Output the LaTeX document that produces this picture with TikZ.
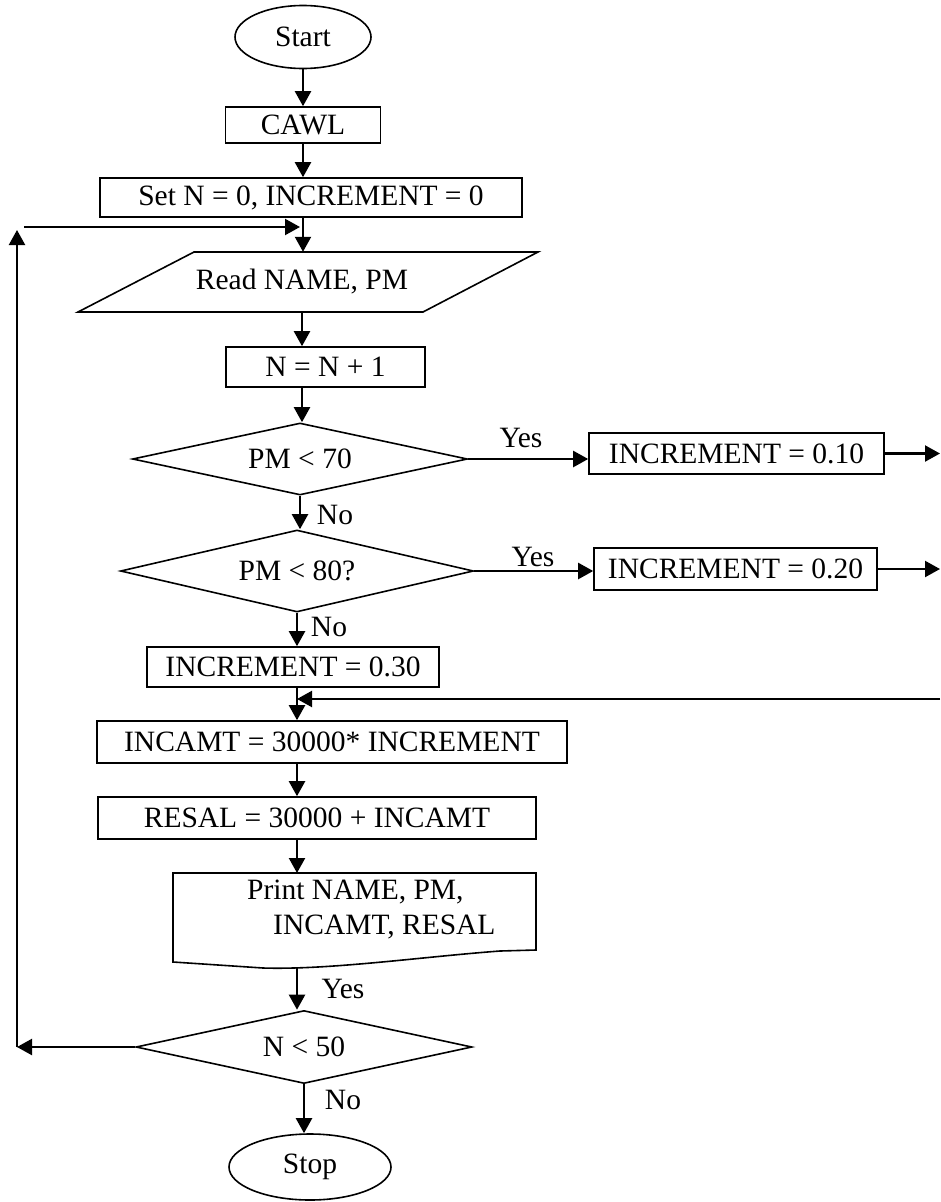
\documentclass[tikz,border=0pt]{standalone}
\usepackage{fontspec}
\setmainfont{Liberation Serif}
\usetikzlibrary{shapes.geometric,arrows.meta}
\begin{document}
\begin{tikzpicture}[x=1pt,y=-1pt,
  every node/.style={font=\fontsize{29.5}{35}\selectfont, inner sep=0pt},
  box/.style={draw, line width=1.6pt, rectangle},
  term/.style={draw, line width=1.6pt, ellipse},
  dec/.style={draw, line width=1.6pt, diamond, aspect=4.6},
  outline/.style={draw, line width=1.6pt},
  arr/.style={line width=2.2pt, -{Triangle[length=15pt,width=16pt]}}]
\useasboundingbox (0,0) rectangle (940,1202);

% nodes
\node[term, minimum width=136pt, minimum height=63pt] (start) at (303,37) {Start};
\node[box, minimum width=155pt, minimum height=36pt] (cawl) at (303,125) {CAWL};
\node[box, minimum width=422pt, minimum height=39pt] (setn) at (311,197.5) {Set N = 0, INCREMENT = 0};
\node[minimum width=200pt, minimum height=60pt] (read) at (302,282) {Read NAME, PM};
\draw[outline] (194,252) -- (538,252) -- (423,312) -- (78,312) -- cycle;
\node[box, minimum width=199pt, minimum height=40pt] (n1) at (325.5,367) {N = N + 1};
\node[dec, minimum width=335pt, minimum height=72pt] (d1) at (300,459) {PM < 70};
\node[dec, minimum width=353pt, minimum height=82pt] (d2) at (297,571) {PM < 80?};
\node[box, minimum width=295pt, minimum height=41pt] (inc1) at (736.5,453.5) {INCREMENT = 0.10};
\node[box, minimum width=283pt, minimum height=42pt] (inc2) at (735.5,569) {INCREMENT = 0.20};
\node[box, minimum width=292pt, minimum height=40pt] (inc3) at (293,667) {INCREMENT = 0.30};
\node[box, minimum width=470pt, minimum height=42pt] (incamt) at (332,742) {INCAMT = 30000* INCREMENT};
\node[box, minimum width=438pt, minimum height=42pt] (resal) at (317,818) {RESAL = 30000 + INCAMT};
\node[anchor=west, align=left] (print) at (247,909.5) {Print NAME, PM,\\\hspace*{26pt}INCAMT, RESAL};
\draw[outline] (173,962) -- (173,873) -- (536,873) -- (536,950) -- (500,951)
  .. controls (420,957) and (330,970) .. (263,968) -- cycle;
\node[dec, minimum width=336pt, minimum height=73pt] (n50) at (304,1047) {N < 50};
\node[term, minimum width=162pt, minimum height=66pt] (stop) at (310,1167) {Stop};

% labels
\node (y1) at (521,438) {Yes};
\node (y2) at (533,557) {Yes};
\node (no1) at (335,515) {No};
\node (no2) at (329,627) {No};
\node (y3) at (343,989) {Yes};
\node (no3) at (343,1100) {No};

% coordinates
\coordinate (pt) at (297,873);
\coordinate (pb) at (297,968);
\coordinate (lt) at (17,230);
\coordinate (lb) at (17,1047);
\coordinate (lh) at (24,227);
\coordinate (e1) at (940,453.5);
\coordinate (e2) at (940,569);
\coordinate (r3) at (940,699);

% connectors
\draw[arr] (start.south) -- (start.south |- cawl.north);
\draw[arr] (cawl.south) -- (cawl.south |- setn.north);
\draw[arr] (setn.south -| cawl) -- (read.north -| cawl);
\draw[arr] (read.south) -- (read.south |- n1.north);
\draw[arr] (n1.south -| read) -- (d1.north -| read);
\draw[arr] (d1.south) -- (d1.south |- d2.north);
\draw[arr] (d2.south) -- (d2.south |- inc3.north);
\draw[arr] (inc3.south -| d2) -- (incamt.north -| d2);
\draw[arr] (incamt.south -| d2) -- (resal.north -| d2);
\draw[arr] (resal.south -| d2) -- (pt);
\draw[arr] (pb) -- (pb |- n50.north);
\draw[arr] (n50.south) -- (n50.south |- stop.north);
\draw[arr] (d1.east) -- (d1.east -| inc1.west);
\draw[arr] (inc1.east) -- (e1);
\draw[arr] (d2.east) -- (d2.east -| inc2.west);
\draw[arr] (inc2.east) -- (e2);
\draw[arr] (r3) -- (r3 -| d2);
\draw[arr] (n50.west) -- (n50.west -| lb);
\draw[arr] (lb) -- (lt);
\draw[arr, shorten >=3pt] (lh) -- (lh -| start);
\end{tikzpicture}
\end{document}
